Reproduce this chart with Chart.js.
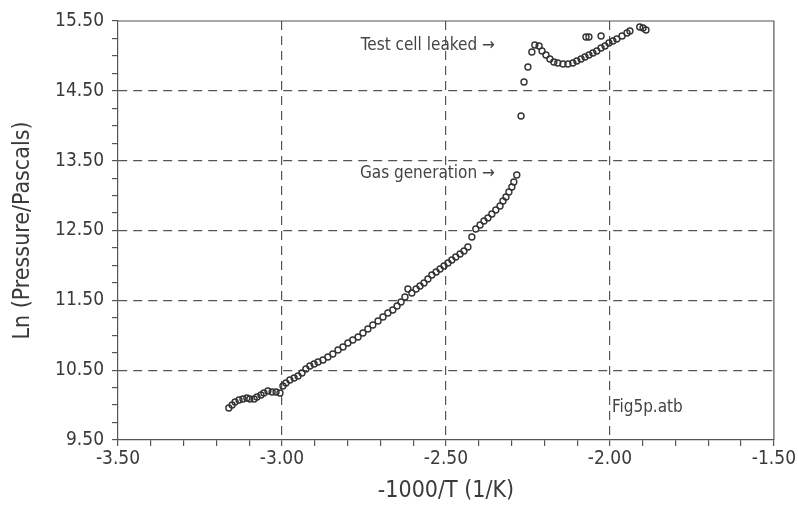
<!DOCTYPE html>
<html>
<head>
<meta charset="utf-8">
<script src="https://cdn.jsdelivr.net/npm/chart.js@4/dist/chart.umd.min.js"></script>
<style>
html,body{margin:0;padding:0;background:#fff;}
#wrap{width:798px;height:505px;}
</style>
</head>
<body>
<div id="wrap"><canvas id="c" width="798" height="505"></canvas></div>
<script>
// Data
const xValues = [
  -3.162,-3.152,-3.143,-3.131,-3.119,-3.107,-3.098,-3.085,-3.076,-3.064,-3.055,-3.043,-3.030,-3.018,-3.006,
  -2.997,-2.988,-2.976,-2.963,-2.951,-2.939,-2.927,-2.915,-2.902,-2.890,-2.875,-2.860,-2.845,-2.829,-2.814,
  -2.799,-2.784,-2.768,-2.753,-2.738,-2.723,-2.707,-2.692,-2.677,-2.662,-2.649,-2.637,-2.625,-2.616,-2.604,
  -2.591,-2.579,-2.567,-2.555,-2.543,-2.530,-2.518,-2.506,-2.494,-2.482,-2.470,-2.457,-2.445,-2.433,-2.421,
  -2.409,-2.396,-2.384,-2.372,-2.360,-2.348,-2.335,-2.326,-2.317,-2.308,-2.299,-2.293,-2.284,
  -2.271,-2.262,-2.250,-2.238,-2.229,-2.216,-2.207,-2.195,-2.183,-2.171,-2.159,-2.143,-2.128,-2.113,-2.101,
  -2.088,-2.076,-2.064,-2.052,-2.040,-2.027,-2.015,-2.003,-1.991,-1.979,-1.963,-1.948,-1.939,
  -2.073,-2.064,-2.027,-1.909,-1.899,-1.890
];
const yValues = [
  9.958,10.001,10.044,10.073,10.087,10.101,10.087,10.087,10.116,10.144,10.173,10.202,10.187,10.187,10.173,
  10.273,10.316,10.359,10.388,10.417,10.459,10.517,10.560,10.588,10.617,10.646,10.689,10.732,10.789,10.832,
  10.889,10.932,10.975,11.032,11.090,11.147,11.204,11.261,11.319,11.362,11.419,11.476,11.548,11.662,11.605,
  11.662,11.705,11.748,11.806,11.863,11.906,11.949,11.992,12.035,12.078,12.121,12.164,12.207,12.264,12.407,
  12.522,12.579,12.636,12.679,12.736,12.794,12.851,12.923,12.980,13.052,13.123,13.195,13.295,
  14.140,14.627,14.842,15.056,15.157,15.142,15.071,15.013,14.956,14.913,14.899,14.884,14.884,14.899,14.927,
  14.956,14.985,15.013,15.042,15.071,15.114,15.142,15.185,15.214,15.243,15.286,15.328,15.357,
  15.271,15.271,15.286,15.414,15.400,15.371
];
const xTickLabels = ["-3.50","-3.00","-2.50","-2.00","-1.50"];
const yTickLabels = ["9.50","10.50","11.50","12.50","13.50","14.50","15.50"];
const noteTexts = ["Test cell leaked \u2192","Gas generation \u2192","Fig5p.atb"];
const noteX = [-2.351,-2.351,-1.994];
const noteY = [15.142,13.32,9.96];
const noteAlign = ["right","right","left"];
const xTitle = "-1000/T (1/K)";
const yTitle = "Ln (Pressure/Pascals)";

const points = xValues.map((x,i)=>({x:x,y:yValues[i]}));
const FONT = "'DejaVu Sans Condensed','Liberation Sans Narrow',sans-serif";
const INK = '#3a3a3a';

function near(v, arr){ return arr.some(a=>Math.abs(a-v)<1e-6); }
const xMajor = xTickLabels.map(Number);
const yMajor = yTickLabels.map(Number);

const framePlugin = {
  id:'frame',
  afterDraw(chart){
    const {ctx, chartArea:a, scales} = chart;
    ctx.save();
    ctx.strokeStyle = '#555';
    ctx.lineWidth = 1.2;
    ctx.beginPath();
    ctx.moveTo(a.left, a.top); ctx.lineTo(a.right, a.top); ctx.lineTo(a.right, a.bottom);
    ctx.stroke();
    ctx.fillStyle = '#444';
    ctx.font = "17px " + FONT;
    ctx.textBaseline = 'middle';
    noteTexts.forEach((t,i)=>{
      ctx.textAlign = noteAlign[i];
      ctx.fillText(t, scales.x.getPixelForValue(noteX[i]), scales.y.getPixelForValue(noteY[i]));
    });
    ctx.restore();
  }
};

new Chart(document.getElementById('c'), {
  type:'scatter',
  data:{datasets:[{
    data:points,
    pointStyle:'circle',
    pointRadius:3,
    borderColor:'#333',
    backgroundColor:'rgba(255,255,255,0)',
    borderWidth:1.4,
    showLine:false
  }]},
  options:{
    responsive:false,
    animation:false,
    devicePixelRatio:1,
    layout:{padding:{left:0,right:24,top:21,bottom:0}},
    plugins:{legend:{display:false},tooltip:{enabled:false}},
    scales:{
      x:{
        type:'linear',
        min:-3.5,max:-1.5,
        afterFit(s){ s.height = 65; },
        ticks:{
          stepSize:0.1, autoSkip:false, maxRotation:0, minRotation:0,
          padding:2, color:INK,
          font:{family:FONT,size:19},
          callback(v){ return near(v,xMajor) ? Number(v).toFixed(2) : ''; }
        },
        grid:{
          drawTicks:true, tickLength:6,
          color(ctx){ const v=ctx.tick && ctx.tick.value; return (v!==undefined && near(v,[-3.0,-2.5,-2.0])) ? '#555' : 'rgba(0,0,0,0)'; },
          tickColor:'#555',
          lineWidth:1.2
        },
        border:{display:true,color:'#555',width:1.2,dash:[9,6]},
        title:{display:true,text:xTitle,color:INK,font:{family:FONT,size:23},padding:{top:4,bottom:0}}
      },
      y:{
        type:'linear',
        min:9.5,max:15.5,
        afterFit(s){ s.width = 118; },
        ticks:{
          stepSize:0.25, autoSkip:false,
          padding:8, color:INK,
          font:{family:FONT,size:19},
          callback(v){ return near(v,yMajor) ? Number(v).toFixed(2) : ''; }
        },
        grid:{
          drawTicks:true, tickLength:6,
          color(ctx){ const v=ctx.tick && ctx.tick.value; return (v!==undefined && near(v,[10.5,11.5,12.5,13.5,14.5])) ? '#555' : 'rgba(0,0,0,0)'; },
          tickColor:'#555',
          lineWidth:1.2
        },
        border:{display:true,color:'#555',width:1.2,dash:[9,6]},
        title:{display:true,text:yTitle,color:INK,font:{family:FONT,size:23},padding:{top:9,bottom:4}}
      }
    }
  },
  plugins:[framePlugin]
});
</script>
</body>
</html>
